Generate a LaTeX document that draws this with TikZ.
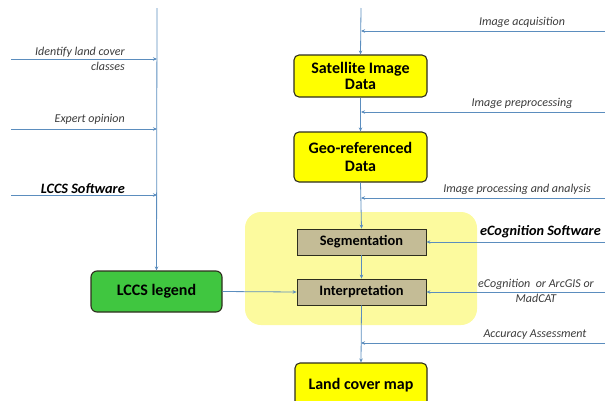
\documentclass[tikz,border=0pt]{standalone}
\usepackage{fontspec}
\setmainfont{Carlito}
\usetikzlibrary{arrows.meta}
\definecolor{ln}{HTML}{5B8DBE}
\definecolor{ybox}{HTML}{FFFF00}
\definecolor{gbox}{HTML}{40C640}
\definecolor{tbox}{HTML}{C4BC96}
\definecolor{hlc}{HTML}{FCFA9E}
\definecolor{bd}{HTML}{2E2E1E}
\definecolor{lbl}{HTML}{3A3A3A}
\tikzset{
  flow/.style={draw=ln, line width=0.8pt, -{Stealth[length=4pt,width=3.5pt]}},
  ybx/.style={draw=bd, line width=1.1pt, fill=ybox, rounded corners=5pt, align=center,
     font=\fontsize{16}{18}\selectfont\bfseries, inner sep=0pt},
  tbx/.style={draw=bd, line width=0.8pt, fill=tbox, minimum width=129pt, minimum height=26pt,
     font=\fontsize{14.4}{16}\selectfont\bfseries, inner sep=0pt},
  lab/.style={font=\fontsize{12}{14}\selectfont\itshape, text=lbl, inner sep=0pt, align=center},
  blab/.style={font=\fontsize{14.3}{16}\selectfont\bfseries\itshape, text=black, inner sep=0pt},
}
\begin{document}
\begin{tikzpicture}[x=1pt,y=-1pt]
\useasboundingbox (0,0) rectangle (605,400);
\clip (0,0) rectangle (605,400);
% highlight
\fill[hlc, rounded corners=16pt] (245,212) rectangle (477,325);
% boxes
\node[ybx, minimum width=133pt, minimum height=42pt] (sat) at (360.5,76) {Satellite Image\\[-2pt]Data};
\node[ybx, minimum width=133pt, minimum height=50pt] (geo) at (360.5,157) {Geo-referenced\\[0pt]Data};
\node[tbx] (seg) at (361.5,242) {Segmentation};
\node[tbx] (int) at (361.5,292) {Interpretation};
\node[ybx, fill=gbox, minimum width=131pt, minimum height=41pt, rounded corners=6pt] (leg) at (156.5,291.5) {LCCS legend};
\node[ybx, minimum width=132pt, minimum height=60pt, text depth=0pt] (land) at (361,393) {};
\node[font=\fontsize{16}{18}\selectfont\bfseries] (landt) at (361,385) {Land cover map};
% coordinates
\coordinate (topM) at (361,8);
\coordinate (topL) at (157,8);
\coordinate (mA) at (361,31);
\coordinate (mB) at (361,112);
\coordinate (mC) at (361,198);
\coordinate (mD) at (361,343);
\coordinate (rA) at (605,31);
\coordinate (rB) at (605,112);
\coordinate (rC) at (605,198);
\coordinate (rD) at (605,343);
\coordinate (rS) at (605,242);
\coordinate (rI) at (605,292);
\coordinate (lA) at (157,59);
\coordinate (lB) at (157,129);
\coordinate (lC) at (157,195);
\coordinate (sA) at (11,59);
\coordinate (sB) at (11,129);
\coordinate (sC) at (11,195);
% main flow
\draw[flow] (topM) -- (sat.north);
\draw[flow] (sat.south) -- (geo.north);
\draw[flow] (geo.south) -- (seg.north);
\draw[flow] (seg.south) -- (int.north);
\draw[flow] (int.south) -- (land.north);
\draw[flow] (topL) -- (leg.north);
\draw[flow] (leg.east) -- (int.west);
% right inputs
\draw[flow] (rA) -- (mA);
\draw[flow] (rB) -- (mB);
\draw[flow] (rC) -- (mC);
\draw[flow] (rD) -- (mD);
\draw[flow] (rS) -- (seg.east);
\draw[flow] (rI) -- (int.east);
% left inputs
\draw[flow] (sA) -- (lA);
\draw[flow] (sB) -- (lB);
\draw[flow] (sC) -- (lC);
% labels
\node[lab] (tA) at (522,22) {Image acquisition};
\node[lab] (tB) at (522,103) {Image preprocessing};
\node[lab] (tC) at (517,189) {Image processing and analysis};
\node[blab, anchor=east] (tS) at (601,232) {eCognition Software};
\node[lab] (tI) at (536,291) {eCognition~~or ArcGIS or\\[1pt]MadCAT};
\node[lab] (tD) at (535,335) {Accuracy Assessment};
\node[lab, align=right, anchor=east] (tL1) at (125,59) {Identify land cover\\[1pt]classes};
\node[lab, anchor=east] (tL2) at (125,119) {Expert opinion};
\node[blab, anchor=east] (tL3) at (125,189) {LCCS Software};
\end{tikzpicture}
\end{document}
